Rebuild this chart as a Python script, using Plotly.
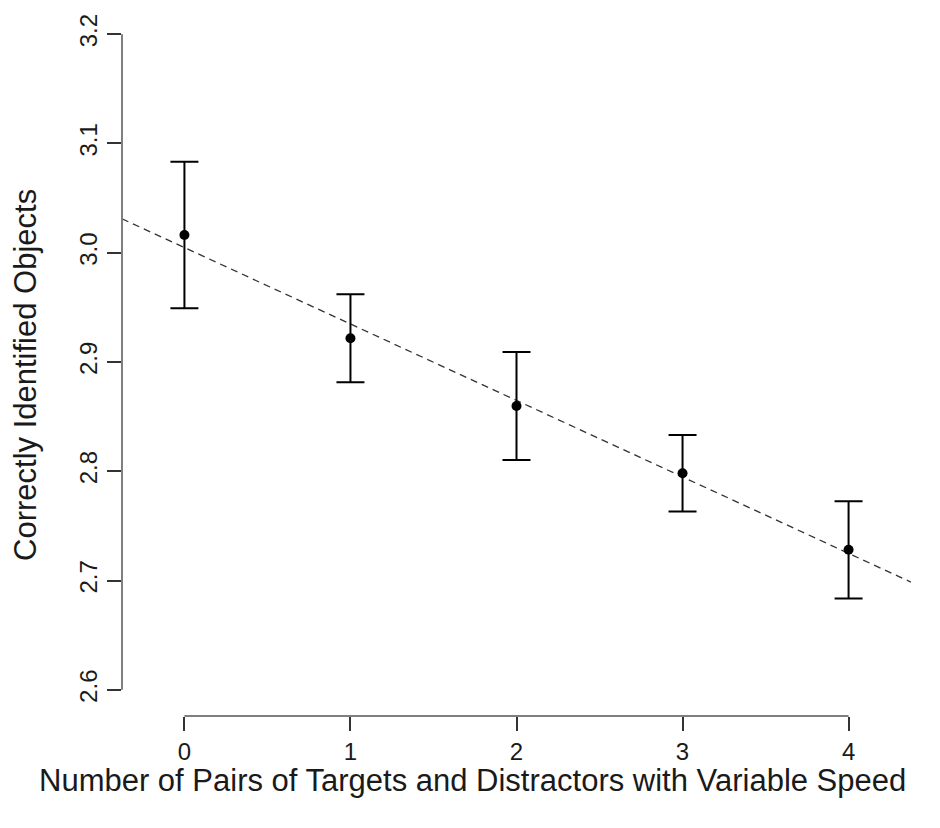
import numpy as np
import plotly.graph_objects as go

# Data
pairs = [0, 1, 2, 3, 4]
mean_correct = [3.0162, 2.9217, 2.8598, 2.7982, 2.7281]
err_half = [0.0670, 0.0402, 0.0494, 0.0351, 0.0445]

y_ticks = [2.6, 2.7, 2.8, 2.9, 3.0, 3.1, 3.2]
y_tick_labels = ["2.6", "2.7", "2.8", "2.9", "3.0", "3.1", "3.2"]
x_ticks = [0, 1, 2, 3, 4]
x_tick_labels = ["0", "1", "2", "3", "4"]

x_title = "Number of Pairs of Targets and Distractors with Variable Speed"
y_title = "Correctly Identified Objects"

x_range = [-0.376, 4.376]
y_range = [2.576, 3.224]

# Regression line through means
slope, intercept = np.polyfit(pairs, mean_correct, 1)
line_x = np.array(x_range)
line_y = intercept + slope * line_x

FONT = "Liberation Sans, Arial, Helvetica, sans-serif"
AXIS_COL = "#7f7f7f"
TICK_COL = "#333333"
TEXT_COL = "#1a1a1a"

# page has an 8px body margin; compensate so the plot lands where the reference has it
W, H = 932, 820
ML, MR, MT, MB = 114, 29, 0, 112
PW = W - ML - MR
PH = H - MT - MB

fig = go.Figure()
fig.add_trace(go.Scatter(
    x=line_x, y=line_y, mode="lines",
    line=dict(color="#333333", width=1.3, dash="7px,5px"),
    hoverinfo="skip", showlegend=False,
))
fig.add_trace(go.Scatter(
    x=pairs, y=mean_correct, mode="markers",
    marker=dict(color="black", size=10),
    error_y=dict(type="data", array=err_half, visible=True,
                 color="black", thickness=2, width=14),
    showlegend=False,
))

# Axis lines (R style: span only the tick range)
fig.add_shape(type="line", xref="paper", yref="y", x0=0, x1=0,
              y0=y_ticks[0], y1=y_ticks[-1],
              line=dict(color=AXIS_COL, width=2))
fig.add_shape(type="line", xref="x", yref="paper", y0=0, y1=0,
              x0=x_ticks[0], x1=x_ticks[-1],
              line=dict(color=AXIS_COL, width=2))

# Axis titles as annotations (positioned like the reference)
fig.add_annotation(
    text=x_title, xref="paper", yref="paper",
    x=(464 - ML) / PW, y=(PH - 772) / PH,
    xanchor="center", yanchor="middle", showarrow=False,
    font=dict(size=31, family=FONT, color=TEXT_COL),
)
fig.add_annotation(
    text=y_title, xref="paper", yref="paper",
    x=(17 - ML) / PW, y=(PH - 367) / PH, textangle=-90,
    xanchor="center", yanchor="middle", showarrow=False,
    font=dict(size=31, family=FONT, color=TEXT_COL),
)

fig.update_layout(
    width=W, height=H,
    margin=dict(l=ML, r=MR, t=MT, b=MB),
    plot_bgcolor="white", paper_bgcolor="white",
    font=dict(family=FONT, color=TEXT_COL),
    xaxis=dict(
        range=x_range, showgrid=False, zeroline=False, showline=False,
        automargin=False,
        tickmode="array", tickvals=x_ticks, ticktext=x_tick_labels,
        ticks="outside", ticklen=14, tickwidth=1.5, tickcolor=TICK_COL,
        tickfont=dict(size=24, family=FONT, color=TEXT_COL),
    ),
    yaxis=dict(
        range=y_range, showgrid=False, zeroline=False, showline=False,
        automargin=False,
        tickmode="array", tickvals=y_ticks, ticktext=y_tick_labels,
        ticks="outside", ticklen=14, tickwidth=1.5, tickcolor=TICK_COL,
        tickangle=-90,
        tickfont=dict(size=24, family=FONT, color=TEXT_COL),
    ),
)

fig.write_html("out.html")
